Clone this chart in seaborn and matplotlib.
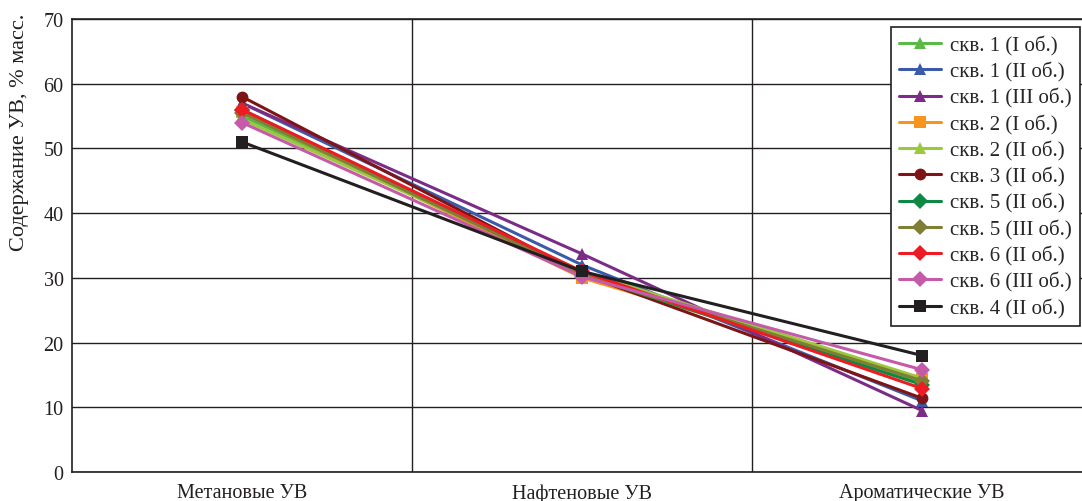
import pandas as pd
import seaborn as sns
import matplotlib.pyplot as plt

categories = ["Метановые УВ", "Нафтеновые УВ", "Ароматические УВ"]
wells = ["скв. 1 (I об.)", "скв. 1 (II об.)", "скв. 1 (III об.)", "скв. 2 (I об.)",
         "скв. 2 (II об.)", "скв. 3 (II об.)", "скв. 5 (II об.)", "скв. 5 (III об.)",
         "скв. 6 (II об.)", "скв. 6 (III об.)", "скв. 4 (II об.)"]

metan = [55.0, 57.0, 57.0, 55.6, 54.5, 58.0, 56.0, 55.5, 56.0, 54.0, 51.0]
naften = [31.0, 32.0, 33.7, 30.0, 31.0, 30.6, 30.5, 30.5, 31.0, 30.2, 31.0]
aromat = [13.8, 11.0, 9.5, 14.4, 14.5, 11.4, 13.5, 14.1, 12.9, 15.8, 18.0]

colors = ["#5BBA47", "#3A5BAA", "#7B2C87", "#F7941D", "#9BC83C", "#7F1416",
          "#0C8A44", "#7E7F35", "#ED1C24", "#C45AA8", "#231F20"]
marks = ["^", "^", "^", "s", "^", "o", "D", "D", "D", "D", "s"]

rows = []
for i, w in enumerate(wells):
    for j, v in enumerate([metan[i], naften[i], aromat[i]]):
        rows.append({"well": w, "pos": j, "val": v})
df = pd.DataFrame(rows)

sns.set_theme(style="white")
plt.rcParams["font.family"] = ["Liberation Serif", "DejaVu Serif"]

fig = plt.figure(figsize=(10.82, 5.02), dpi=100)
ax = fig.add_axes([72 / 1082, 29 / 502, 1020 / 1082, 453 / 502])

sns.lineplot(data=df, x="pos", y="val", hue="well", style="well",
             palette=dict(zip(wells, colors)), markers=dict(zip(wells, marks)),
             dashes=False, linewidth=2.2, markersize=8.5, markeredgewidth=0,
             sort=False, ax=ax)

ax.set_xlim(-0.5, 2.5)
ax.set_ylim(0, 70)
ax.set_yticks(range(0, 71, 10))
ax.set_xticks([0, 1, 2])
ax.set_xticklabels(categories)
ax.set_xticks([0.5, 1.5], minor=True)
ax.tick_params(axis="both", which="both", length=0, labelsize=14.5, colors="#231F20")
ax.tick_params(axis="x", pad=8)
ax.tick_params(axis="y", pad=6)
ax.grid(which="major", axis="y", color="#231F20", linewidth=1)
ax.grid(which="minor", axis="x", color="#231F20", linewidth=1)
ax.set_axisbelow(True)
for s in ax.spines.values():
    s.set_color("#231F20")
    s.set_linewidth(1.2)
ax.set_xlabel("")
ax.set_ylabel("")
fig.text(20 / 1082, 1 - 14 / 502, "Содержание УВ, % масс.", rotation=90,
         ha="center", va="top", fontsize=16, color="#231F20")

handles, labels = ax.get_legend_handles_labels()
leg = ax.legend(handles, labels, loc="upper right",
                bbox_to_anchor=(1080 / 1082, 1 - 28 / 502),
                bbox_transform=fig.transFigure, fontsize=15, frameon=True,
                fancybox=False, edgecolor="#231F20", framealpha=1,
                labelspacing=0.3, handlelength=2.0, handletextpad=0.45,
                borderpad=0.4, borderaxespad=0)
leg.get_frame().set_linewidth(1.2)

fig.savefig("out.png", dpi=100)
